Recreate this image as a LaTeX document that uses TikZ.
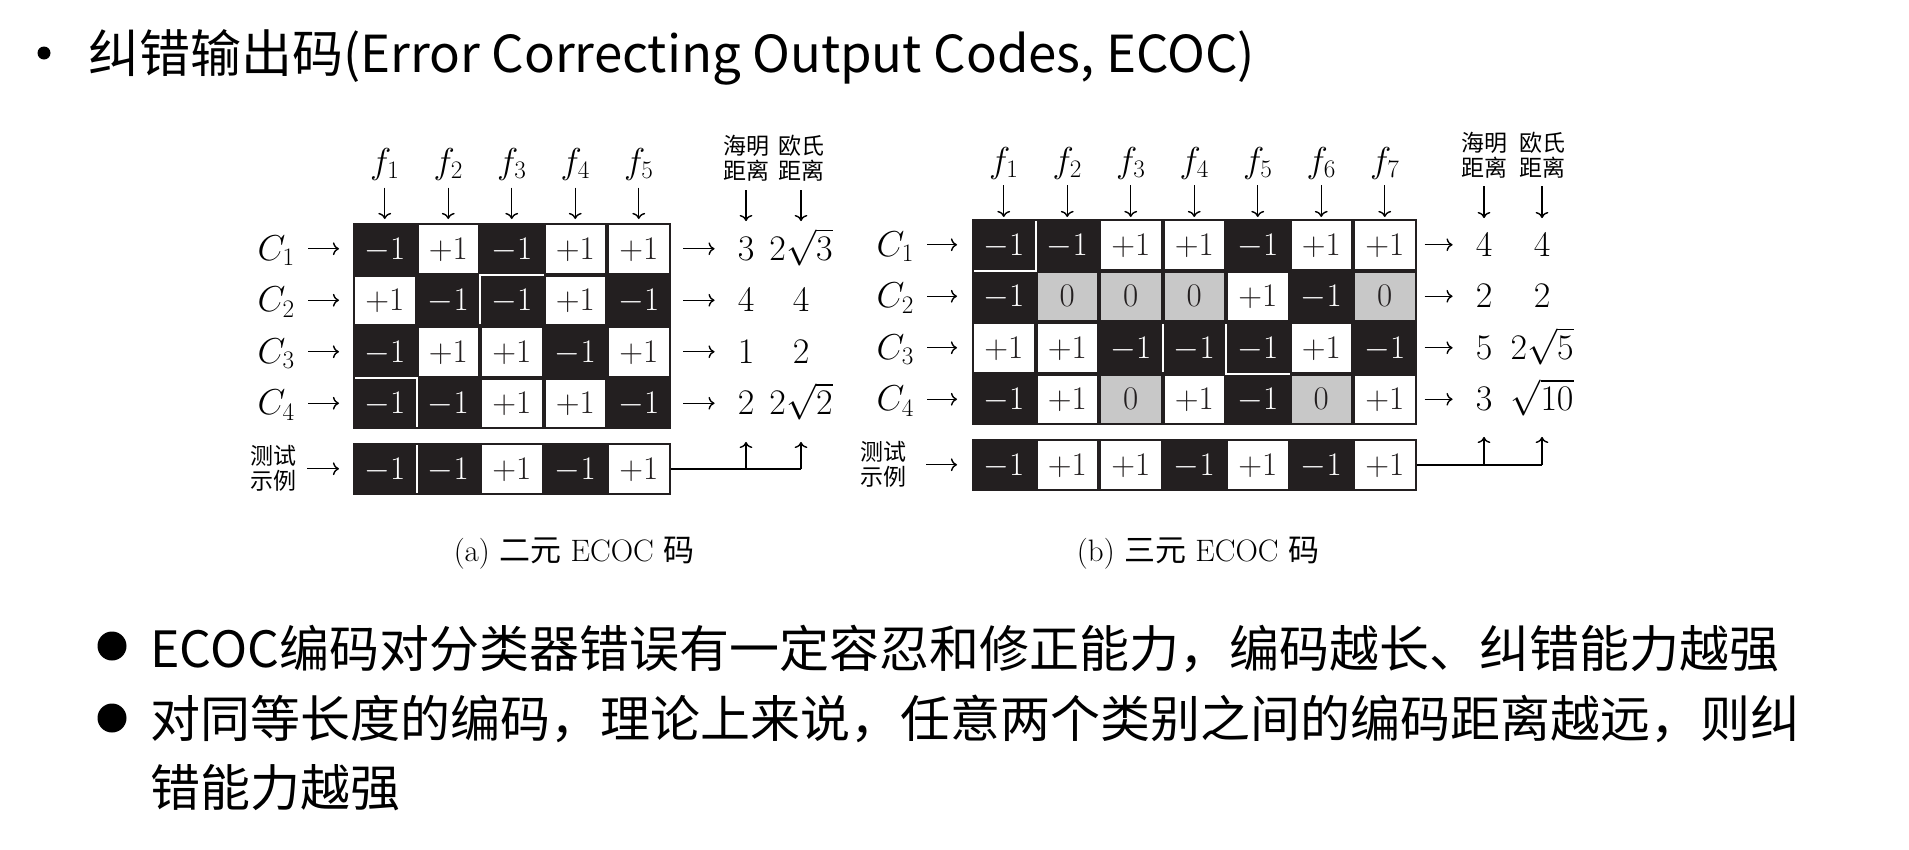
\RequirePackage{fix-cm}
\documentclass[tikz,border=0pt]{standalone}
\usepackage{fontspec}
\newfontfamily\cjk{Noto Sans CJK SC}
\usetikzlibrary{matrix,positioning,arrows.meta}
\definecolor{ink}{RGB}{35,31,32}
\definecolor{zerogray}{RGB}{200,200,200}
\tikzset{%
  code cell/.style={anchor=center,minimum width=59.5pt,minimum height=47.5pt,inner sep=0pt,outer sep=0pt,
    text height=21pt,text depth=0pt,font=\fontsize{33}{40}\selectfont},
  code/.style={matrix of nodes,nodes={code cell},column sep=4pt,row sep=4pt,
    inner sep=2pt,outer sep=0pt,fill=ink,anchor=north west},
}

\begin{document}
\begin{tikzpicture}[x=1pt,y=-1pt,
            mcell/.style={fill=ink,text=white},
            pcell/.style={fill=white,text=ink},
            zcell/.style={fill=zerogray,text=ink},
            lab/.style={inner sep=0pt,text height=23pt,text depth=0pt,font=\fontsize{36}{42}\selectfont},
            hz/.style={inner sep=0pt,align=center,font=\cjk\fontsize{23}{25}\selectfont},
            captext/.style={inner sep=0pt,font=\fontsize{31}{36}\selectfont},
            dotmark/.style={circle,fill=black,inner sep=0pt},
            remark/.style={anchor=base west,inner sep=0pt,font=\cjk\fontsize{50}{60}\selectfont},
            arr/.style={-{To[scale=1.3]},line width=1.4pt},
            wire/.style={line width=1.6pt},
            seam/.style={white,line width=2pt}
            ]
            \fill[white] (0,0) rectangle (1909,849);
            \useasboundingbox (0,0) rectangle (1909,849);
            % title
            \node[dotmark,minimum size=13pt] (tdot) at (44,53) {};
            \node[remark,font=\cjk\fontsize{51}{60}\selectfont] (title) at (88,72) {纠错输出码(Error Correcting Output Codes, ECOC)};

            % (a) binary code
            \matrix[code] (amat) at (353,223)
            {
            |[mcell]| $-1$ & |[pcell]| $+1$ & |[mcell]| $-1$ & |[pcell]| $+1$ & |[pcell]| $+1$ \\
            |[pcell]| $+1$ & |[mcell]| $-1$ & |[mcell]| $-1$ & |[pcell]| $+1$ & |[mcell]| $-1$ \\
            |[mcell]| $-1$ & |[pcell]| $+1$ & |[pcell]| $+1$ & |[mcell]| $-1$ & |[pcell]| $+1$ \\
            |[mcell]| $-1$ & |[mcell]| $-1$ & |[pcell]| $+1$ & |[pcell]| $+1$ & |[mcell]| $-1$ \\
            };
            \matrix[code] (atest) at (353,443)
            {
            |[mcell]| $-1$ & |[mcell]| $-1$ & |[pcell]| $+1$ & |[mcell]| $-1$ & |[pcell]| $+1$ \\
            };
            \draw[seam] ([xshift=-2pt]amat-2-3.south west) -- ([shift={(-2pt,2pt)}]amat-2-3.north west) -- ([shift={(2pt,2pt)}]amat-2-3.north east);
            \draw[seam] ([xshift=-2pt]amat-4-2.south west) -- ([shift={(-2pt,2pt)}]amat-4-2.north west) -- ([yshift=2pt]amat-4-1.north west);
            \draw[seam] ([xshift=-2pt]atest-1-2.south west) -- ([xshift=-2pt]atest-1-2.north west);

            \foreach \j in {1,...,5}
            {
                \node[lab,above=51.5pt of amat-1-\j] (af\j) {$f_\j$};
                \draw[arr,shorten <=14pt,shorten >=6pt] (af\j) -- (amat-1-\j);
            }
            \coordinate (ahcol) at (746,0);
            \coordinate (aecol) at (801,0);
            \foreach \i/\h/\e in {1/3/2\sqrt{3},2/4/4,3/1/2,4/2/2\sqrt{2}}
            {
                \node[lab,left=60pt of amat-\i-1] (ac\i) {$C_\i$};
                \draw[arr,shorten <=13pt,shorten >=16pt] (ac\i) -- (amat-\i-1);
                \node[lab] (ah\i) at (ahcol |- amat-\i-1) {$\h$};
                \node[lab] (ae\i) at (aecol |- amat-\i-1) {$\e$};
                \draw[arr,shorten <=14.5pt,shorten >=23pt] (amat-\i-5) -- (ah\i);
            }
            \node[hz,above=56pt of ah1] (ahd) {海明\\距离};
            \node[hz,above=56pt of ae1] (aed) {欧氏\\距离};
            \draw[arr,shorten <=9pt,shorten >=16pt] (ahd) -- (ah1);
            \draw[arr,shorten <=9pt,shorten >=16pt] (aed) -- (ae1);

            \node[hz,left=58pt of atest-1-1] (atl) {测试\\示例};
            \draw[arr,shorten <=10pt,shorten >=16pt] (atl) -- (atest-1-1);
            \coordinate (ajoin) at (ae4 |- atest);
            \draw[wire] (atest) -- (ajoin);
            \draw[arr,shorten >=27pt] (ah4 |- atest) -- (ah4);
            \draw[arr,shorten >=27pt] (ajoin) -- (ae4);
            \node[captext] (acap) at (574,553) {(a) {\cjk 二元} ECOC {\cjk 码}};

            % (b) ternary code
            \matrix[code] (bmat) at (972,219)
            {
            |[mcell]| $-1$ & |[mcell]| $-1$ & |[pcell]| $+1$ & |[pcell]| $+1$ & |[mcell]| $-1$ & |[pcell]| $+1$ & |[pcell]| $+1$ \\
            |[mcell]| $-1$ & |[zcell]| $0$ & |[zcell]| $0$ & |[zcell]| $0$ & |[pcell]| $+1$ & |[mcell]| $-1$ & |[zcell]| $0$ \\
            |[pcell]| $+1$ & |[pcell]| $+1$ & |[mcell]| $-1$ & |[mcell]| $-1$ & |[mcell]| $-1$ & |[pcell]| $+1$ & |[mcell]| $-1$ \\
            |[mcell]| $-1$ & |[pcell]| $+1$ & |[zcell]| $0$ & |[pcell]| $+1$ & |[mcell]| $-1$ & |[zcell]| $0$ & |[pcell]| $+1$ \\
            };
            \matrix[code] (btest) at (972,439)
            {
            |[mcell]| $-1$ & |[pcell]| $+1$ & |[pcell]| $+1$ & |[mcell]| $-1$ & |[pcell]| $+1$ & |[mcell]| $-1$ & |[pcell]| $+1$ \\
            };
            \draw[seam] ([xshift=2pt]bmat-1-1.north east) -- ([shift={(2pt,-2pt)}]bmat-1-1.south east) -- ([yshift=-2pt]bmat-1-1.south west);
            \draw[seam] ([xshift=-2pt]bmat-3-4.north west) -- ([xshift=-2pt]bmat-3-4.south west);
            \draw[seam] ([xshift=-2pt]bmat-3-5.north west) -- ([shift={(-2pt,-2pt)}]bmat-3-5.south west) -- ([shift={(2pt,-2pt)}]bmat-3-5.south east);

            \foreach \j in {1,...,7}
            {
                \node[lab,above=48.5pt of bmat-1-\j] (bf\j) {$f_\j$};
                \draw[arr,shorten <=12.5pt,shorten >=4pt] (bf\j) -- (bmat-1-\j);
            }
            \coordinate (bhcol) at (1484,0);
            \coordinate (becol) at (1542,0);
            \foreach \i/\h/\e in {1/4/4,2/2/2,3/5/2\sqrt{5},4/3/\sqrt{10}}
            {
                \node[lab,left=60pt of bmat-\i-1] (bc\i) {$C_\i$};
                \draw[arr,shorten <=13pt,shorten >=17pt] (bc\i) -- (bmat-\i-1);
                \node[lab] (bh\i) at (bhcol |- bmat-\i-1) {$\h$};
                \node[lab] (be\i) at (becol |- bmat-\i-1) {$\e$};
                \draw[arr,shorten <=10pt,shorten >=23pt] (bmat-\i-7) -- (bh\i);
            }
            \node[hz,above=55pt of bh1] (bhd) {海明\\距离};
            \node[hz,above=55pt of be1] (bed) {欧氏\\距离};
            \draw[arr,shorten <=8pt,shorten >=15pt] (bhd) -- (bh1);
            \draw[arr,shorten <=8pt,shorten >=15pt] (bed) -- (be1);

            \node[hz,left=67pt of btest-1-1] (btl) {测试\\示例};
            \draw[arr,shorten <=19pt,shorten >=17pt] (btl) -- (btest-1-1);
            \coordinate (bjoin) at (be4 |- btest);
            \draw[wire] (btest) -- (bjoin);
            \draw[arr,shorten >=26pt] (bh4 |- btest) -- (bh4);
            \draw[arr,shorten >=26pt] (bjoin) -- (be4);
            \node[captext] (bcap) at (1198,553) {(b) {\cjk 三元} ECOC {\cjk 码}};

            % remarks
            \node[dotmark,minimum size=29pt] (dot1) at (112,646) {};
            \node[remark] (rem1) at (150,667) {ECOC编码对分类器错误有一定容忍和修正能力，编码越长、纠错能力越强};
            \node[dotmark,minimum size=29pt] (dot2) at (112,718) {};
            \node[remark] (rem2) at (150,737) {对同等长度的编码，理论上来说，任意两个类别之间的编码距离越远，则纠};
            \node[remark] (rem3) at (150,806) {错能力越强};
\end{tikzpicture}
\end{document}
